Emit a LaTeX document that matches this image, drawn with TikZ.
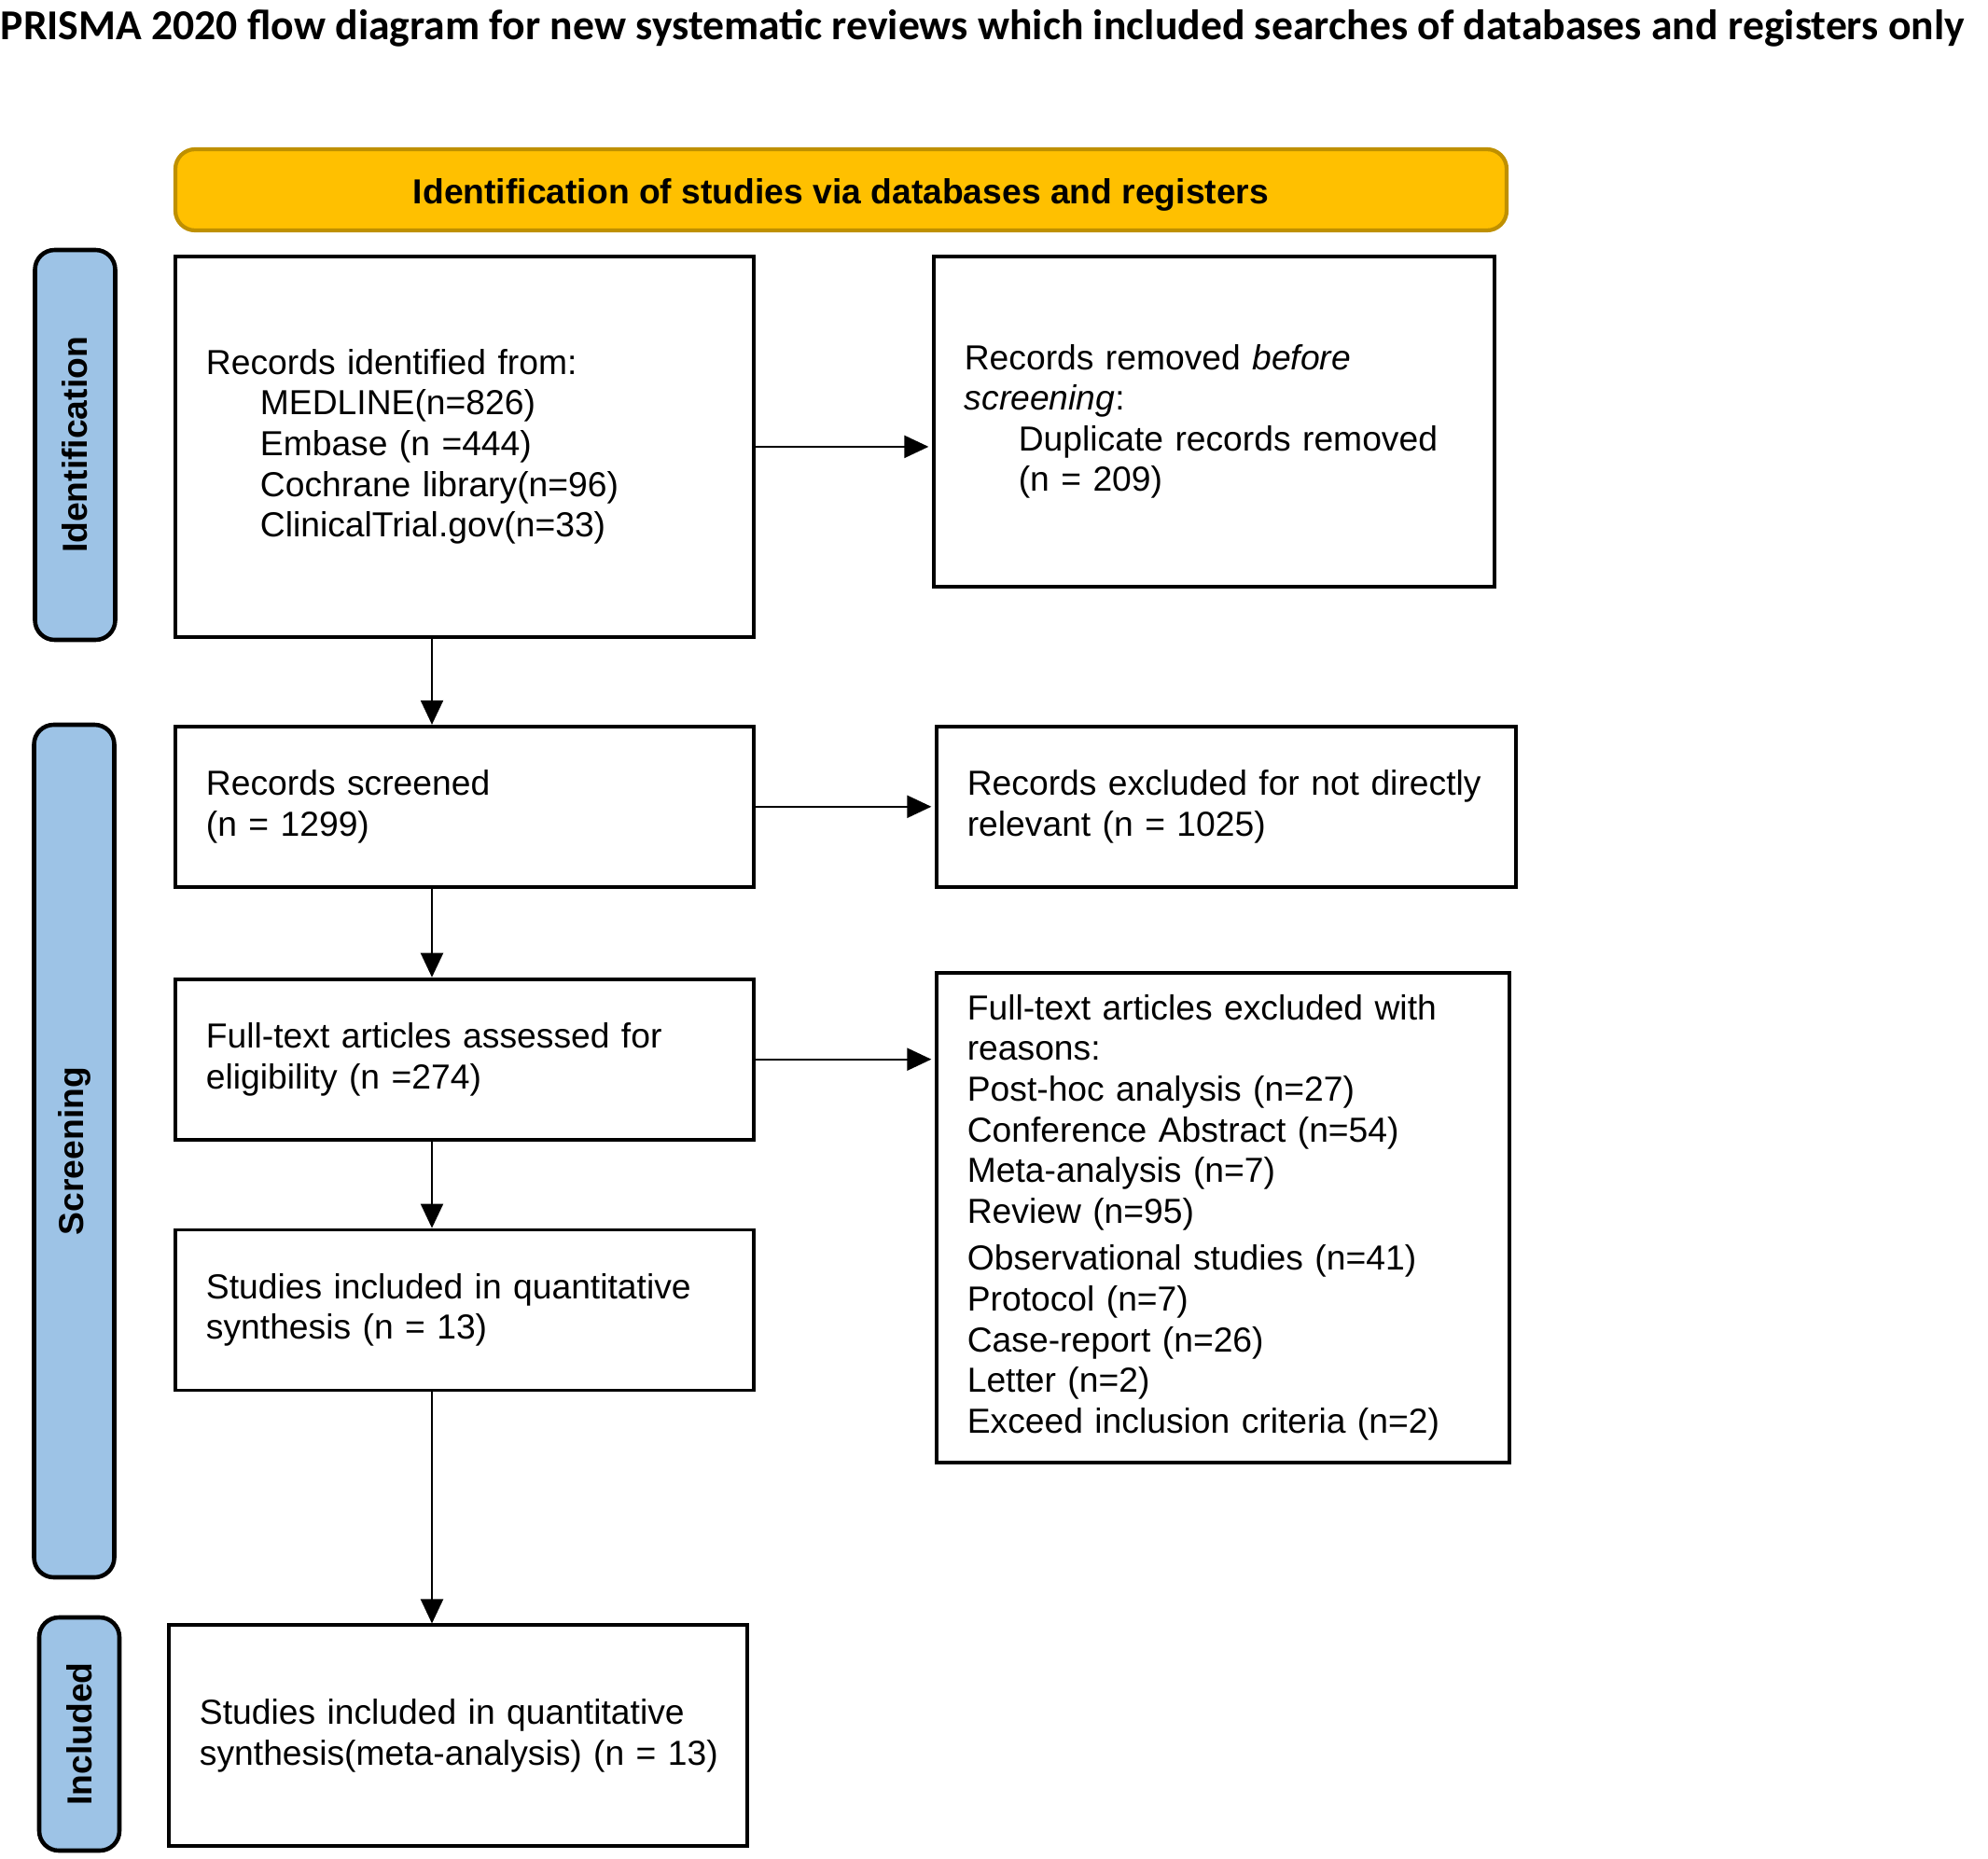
\documentclass[tikz,border=0pt]{standalone}
\usepackage{fontspec}
\setmainfont{Liberation Sans}
\newfontfamily\titlefont{Carlito}
\definecolor{prismaGold}{HTML}{FFC000}
\definecolor{prismaGoldDark}{HTML}{BF9000}
\definecolor{prismaBlue}{HTML}{9DC3E6}
\usetikzlibrary{positioning, calc, arrows.meta}

\begin{document}
\begin{tikzpicture}[
    node distance=0.93cm,
    record/.style={rectangle, draw=black, line width=1.1pt, align=left,
                   inner xsep=0.33cm, inner ysep=0pt, text width=5.54cm,
                   minimum height=1.72cm,
                   font=\fontsize{10.6}{12.4}\selectfont},
    stage/.style={rectangle, draw=black, fill=prismaBlue, line width=1.3pt,
                  rounded corners=6pt, rotate=90, minimum height=0.86cm,
                  font=\bfseries\fontsize{10.6}{12.4}\selectfont},
    banner/.style={rectangle, draw=prismaGoldDark, fill=prismaGold, line width=1.2pt,
                   rounded corners=6pt, minimum width=14.27cm, minimum height=0.87cm,
                   text height=8.5pt, text depth=0pt,
                   font=\bfseries\fontsize{10.6}{12.4}\selectfont},
    flow/.style={-{Triangle[length=0.26cm,width=0.24cm]}, line width=0.6pt}
  ]
    \useasboundingbox (0,0) rectangle (21.31,-19.92);

    \node[anchor=base west, inner sep=0pt,
          font=\titlefont\bfseries\fontsize{13}{15}\selectfont] (TITLE) at (0,-0.43)
      {PRISMA 2020 flow diagram for new systematic reviews which included searches of databases and registers only};

    \node[banner] (HEAD) at (9.015,-2.035) {Identification of studies via databases and registers};

    % stage labels on the left
    \node[stage, minimum width=4.18cm] (S1) at (0.805,-4.77) {Identification};
    \node[stage, minimum width=9.14cm] (S2) at (0.795,-12.34) {Screening};
    \node[stage, minimum width=2.5cm] (S3) at (0.85,-18.59) {Included};

    % main column
    \node[record, minimum height=4.08cm, anchor=north west] (IDN) at (1.86,-2.73)
      {Records identified from:\\
       \hspace*{0.58cm}MEDLINE(n=826)\\
       \hspace*{0.58cm}Embase (n =444)\\
       \hspace*{0.58cm}Cochrane library(n=96)\\
       \hspace*{0.58cm}ClinicalTrial.gov(n=33)};
    \node[record, below=0.92cm of IDN] (SCR) {Records screened\\(n = 1299)};
    \node[record, below=0.95cm of SCR] (FTA) {Full-text articles assessed for\\eligibility (n =274)};
    \node[record, below=0.93cm of FTA] (QNT) {Studies included in quantitative\\synthesis (n = 13)};
    \node[record, minimum height=2.37cm, below=2.48cm of QNT, xshift=-0.07cm] (INC)
      {Studies included in quantitative\\\mbox{synthesis(meta-analysis) (n = 13)}};

    % right column
    \node[record, text width=5.35cm, minimum height=3.54cm,
          right=1.89cm of IDN.north east, anchor=north west] (REM)
      {Records removed \emph{before}\\\emph{screening}:\\
       \hspace*{0.58cm}Duplicate records removed\\
       \hspace*{0.58cm}(n = 209)};
    \node[record, text width=5.55cm, right=1.92cm of SCR] (EXC)
      {Records excluded for not directly\\relevant (n = 1025)};
    \node[record, text width=5.48cm, minimum height=5.25cm,
          right=1.92cm of FTA.north east, anchor=north west, yshift=0.07cm] (FTX)
      {Full-text articles excluded with\\reasons:\\
       Post-hoc analysis (n=27)\\
       Conference Abstract (n=54)\\
       Meta-analysis (n=7)\\
       Review (n=95)\\[2pt]
       Observational studies (n=41)\\
       Protocol (n=7)\\
       Case-report (n=26)\\
       Letter (n=2)\\
       Exceed inclusion criteria (n=2)};

    % connectors
    \coordinate (SPINE) at (4.63,0);
    \draw[flow, shorten >=1pt] (IDN.east) -- (IDN.east -| REM.west);
    \draw[flow, shorten >=1pt] (SCR.east) -- (EXC.west);
    \draw[flow, shorten >=1pt] (FTA.east) -- (FTA.east -| FTX.west);
    \draw[flow] (SPINE |- IDN.south) -- (SPINE |- SCR.north);
    \draw[flow] (SPINE |- SCR.south) -- (SPINE |- FTA.north);
    \draw[flow] (SPINE |- FTA.south) -- (SPINE |- QNT.north);
    \draw[flow] (SPINE |- QNT.south) -- (SPINE |- INC.north);
  \end{tikzpicture}
\end{document}
